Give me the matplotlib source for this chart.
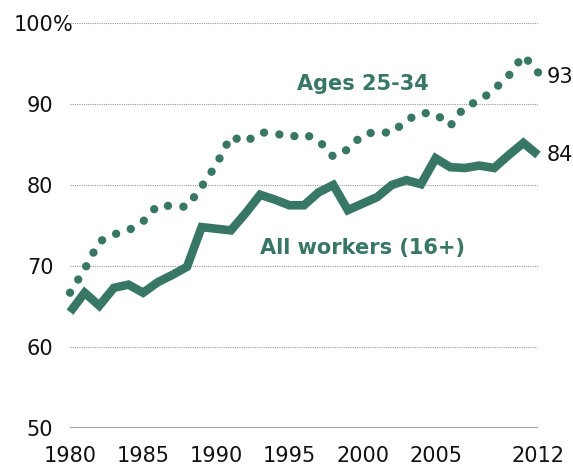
import matplotlib
matplotlib.use("Agg")
import matplotlib.pyplot as plt
import numpy as np

years = list(range(1980, 2013))

# share of workers, percent
ages_25_34 = [66.7, 69.6, 73.0, 73.9, 74.4, 75.5, 77.5, 77.4, 77.3, 79.8,
              82.5, 86.0, 85.3, 86.5, 86.4, 85.9, 86.3, 85.5, 83.5, 84.4,
              86.2, 86.6, 86.4, 88.0, 88.9, 88.8, 87.3, 89.7, 90.4, 91.8,
              93.5, 96.0, 93.9]
all_workers = [64.3, 66.7, 65.1, 67.3, 67.7, 66.7, 68.0, 68.9, 69.9, 74.8,
               74.6, 74.4, 76.5, 78.8, 78.2, 77.5, 77.5, 79.1, 80.0, 76.9,
               77.7, 78.5, 80.0, 80.6, 80.1, 83.3, 82.2, 82.1, 82.4, 82.1,
               83.7, 85.2, 83.7]

xticks = [1980, 1985, 1990, 1995, 2000, 2005, 2012]
yticks = [50, 60, 70, 80, 90, 100]

green = '#387766'

fig = plt.figure(figsize=(5.73, 4.66), dpi=100)
ax = fig.add_axes([70/573, 1 - 428/466, 468/573, 405/466])
ax.set_xlim(1980, 2012)
ax.set_ylim(50, 100)

# dotted gridlines
for y in yticks[1:]:
    ax.axhline(y, color='#999999', linestyle=(0, (1, 1)), linewidth=0.8, zorder=1)
ax.axhline(50, color='#999999', linewidth=2, zorder=1)

ax.plot(years, all_workers, color=green, linewidth=6.2, solid_joinstyle='miter',
        solid_capstyle='butt', zorder=3, clip_on=False)

# fit the dot spacing so the last dot lands on the last point
lw = 6.0
pts = ax.transData.transform(np.column_stack([years, ages_25_34]))
length_pt = np.hypot(*np.diff(pts, axis=0).T).sum() * 72 / fig.dpi
n = round(length_pt / (lw * 1.86))
gap = length_pt / (n * lw) - 0.01
ax.plot(years, ages_25_34, color=green, linewidth=lw, linestyle=(0, (0.01, gap)),
        dash_capstyle='round', zorder=3, clip_on=False)

for s in ax.spines.values():
    s.set_visible(False)

ax.set_xticks(xticks)
ax.set_xticklabels([str(x) for x in xticks], fontsize=15, color='#111111')
ax.set_yticks(yticks)
ax.set_yticklabels([str(y) for y in yticks], fontsize=15, color='#111111')
ax.tick_params(length=0)
ax.tick_params(axis='y', pad=12)
ax.tick_params(axis='x', pad=13)
ax.text(-0.036, 100, '%', transform=ax.get_yaxis_transform(), ha='left',
        va='center_baseline', fontsize=15, color='#111111')

ax.text(2000, 92.5, 'Ages 25-34', color=green, fontsize=15, fontweight='bold',
        ha='center', va='center')
ax.text(2000, 72.2, 'All workers (16+)', color=green, fontsize=15, fontweight='bold',
        ha='center', va='center')
ax.text(2012.6, 93.3, '93', fontsize=15, color='#111111', ha='left', va='center')
ax.text(2012.6, 83.7, '84', fontsize=15, color='#111111', ha='left', va='center')

plt.savefig('out.png', dpi=100)
